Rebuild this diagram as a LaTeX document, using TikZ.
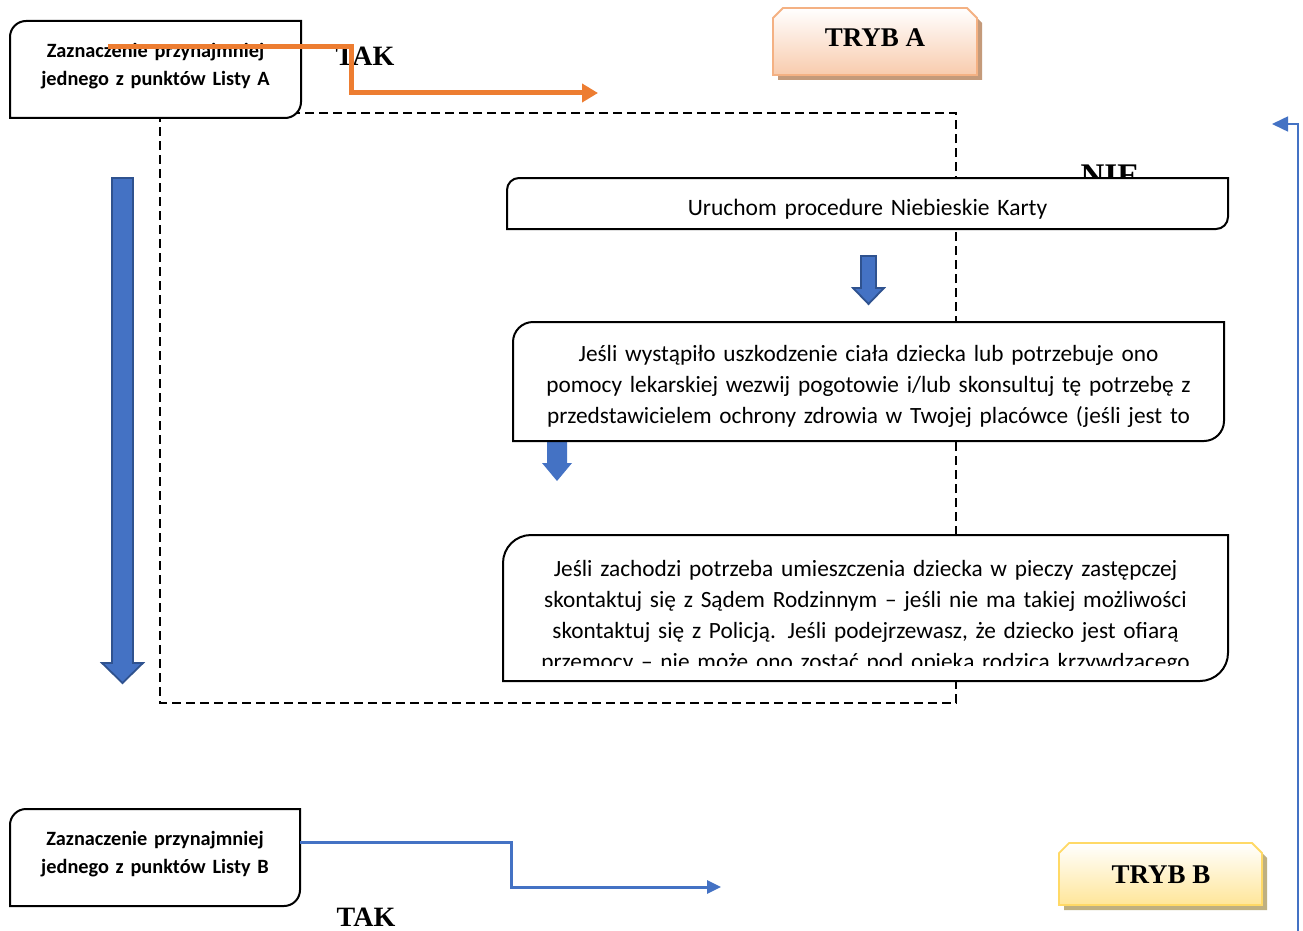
\documentclass[tikz,border=0pt]{standalone}
\usepackage{fontspec}
\setmainfont{Carlito}
\newfontfamily\tnr{Liberation Serif}
\usetikzlibrary{arrows.meta}
\definecolor{blueA}{HTML}{4472C4}
\definecolor{blueD}{HTML}{2F528F}
\definecolor{orangeA}{HTML}{ED7D31}
\definecolor{peachB}{HTML}{F4B183}
\definecolor{peachF}{HTML}{F8CBAD}
\definecolor{peachS}{HTML}{C49A7A}
\definecolor{goldB}{HTML}{FFD966}
\definecolor{goldF}{HTML}{FFE699}
\definecolor{goldS}{HTML}{BFB080}
% rounded (top-left, bottom-right) rectangle: x1 y1 x2 y2 r opts
\newcommand\rrect[6]{\path[#6] (#1,#2+#5) .. controls (#1,#2+0.45*#5) and (#1+0.45*#5,#2) .. (#1+#5,#2) -- (#3,#2) -- (#3,#4-#5) .. controls (#3,#4-0.45*#5) and (#3-0.45*#5,#4) .. (#3-#5,#4) -- (#1,#4) -- cycle;}
% snipped top corners rectangle
\newcommand\sniprect[6]{\path[#6] (#1,#4) -- (#1,#2+#5) -- (#1+#5,#2) -- (#3-#5,#2) -- (#3,#2+#5) -- (#3,#4) -- cycle;}
\begin{document}
\begin{tikzpicture}[x=1pt,y=-1pt,
  boxline/.style={draw=black, line width=2pt, fill=white},
  body/.style={font=\fontsize{23.3}{31}\selectfont, align=center, text width=#1, inner sep=0pt, anchor=base},
  boldtxt/.style={font=\fontsize{20.3}{28}\selectfont\bfseries, align=center, text width=285pt, inner sep=0pt, anchor=base},
  tim/.style={font=\tnr\fontsize{28}{30}\selectfont\bfseries, inner sep=0pt, anchor=base},
  blockarrow/.style={fill=blueA, draw=blueD, line width=1.8pt, line join=miter},
  dashframe/.style={draw=black, line width=1.4pt, dash pattern=on 9pt off 5pt}]
\useasboundingbox (0,0) rectangle (1303,931);
\fill[white] (0,0) rectangle (1303,931);

% dashed frame
\draw[dashframe] (160,113) rectangle (956,703);

% NIE (partly hidden)
\node[tim, font=\tnr\fontsize{33}{36}\selectfont\bfseries] (nie) at (1110,186) {NIE};

% big left block arrow
\draw[blockarrow] (112,178) -- (133,178) -- (133,663) -- (143,663) -- (122.5,683) -- (102,663) -- (112,663) -- cycle;
% small arrow under box 3
\fill[blueA] (547,441) -- (567,441) -- (567,463) -- (572,463) -- (557,481) -- (542,463) -- (547,463) -- cycle;

% boxes
\rrect{10}{21}{301}{118}{16}{boxline}
\rrect{507}{178}{1228}{229}{12}{boxline}
\rrect{513}{322}{1224}{441}{20}{boxline}
\rrect{503}{535}{1228}{681}{28}{boxline}
\rrect{10}{809}{300}{906}{16}{boxline}

% small arrow 1
\draw[blockarrow] (861,256) -- (876,256) -- (876,288) -- (884,288) -- (868.5,304) -- (853,288) -- (861,288) -- cycle;

% texts
\node[boldtxt] (boxA) at (155.5,58) {Zaznaczenie przynajmniej\\jednego z punktów Listy A};
\node[boldtxt] (boxB) at (155,845) {Zaznaczenie przynajmniej\\jednego z punktów Listy B};
\begin{scope}
\clip (509,180) rectangle (1226,227);
\node[body=715pt, font=\fontsize{23.5}{31}\selectfont] (nk) at (867.5,215) {Uruchom procedure Niebieskie Karty};
\end{scope}
\begin{scope}
\clip (515,324) rectangle (1222,427);
\node[body=705pt] (pog) at (868.5,361) {Jeśli wystąpiło uszkodzenie ciała dziecka lub potrzebuje ono\\pomocy lekarskiej wezwij pogotowie i/lub skonsultuj tę potrzebę z\\przedstawicielem ochrony zdrowia w Twojej placówce (jeśli jest to};
\end{scope}
\begin{scope}
\clip (505,537) rectangle (1226,665);
\node[body=715pt] (sad) at (865.5,576) {Jeśli zachodzi potrzeba umieszczenia dziecka w pieczy zastępczej\\skontaktuj się z Sądem Rodzinnym – jeśli nie ma takiej możliwości\\skontaktuj się z Policją. Jeśli podejrzewasz, że dziecko jest ofiarą\\przemocy – nie może ono zostać pod opieką rodzica krzywdzącego};
\end{scope}

% TRYB boxes
\sniprect{778}{13}{982}{80}{10}{fill=peachS}
\sniprect{773}{8}{977}{75}{10}{top color=white, bottom color=peachF, draw=peachB, line width=1.8pt}
\node[tim, font=\tnr\fontsize{27}{30}\selectfont\bfseries] (trybA) at (875,47) {TRYB A};
\sniprect{1064}{848}{1267}{910}{10}{fill=goldS}
\sniprect{1059}{843}{1262}{905}{10}{top color=white, bottom color=goldF, draw=goldB, line width=1.8pt}
\node[tim, font=\tnr\fontsize{27}{30}\selectfont\bfseries] (trybB) at (1161,883) {TRYB B};

% TAK labels
\node[tim] (takA) at (365,66) {TAK};
\node[tim] (takB) at (366,926) {TAK};

% connectors
\coordinate (oa) at (108,47);
\coordinate (oe) at (598,93);
\draw[orangeA, line width=5pt, line join=miter, -{Triangle[length=16pt,width=18pt]}] (oa) -| (351,93) -- (oe);
\coordinate (ba) at (300,842);
\coordinate (be) at (721,887);
\draw[blueA, line width=3pt, line join=miter, -{Triangle[length=14pt,width=13pt]}] (ba) -| (511,887) -- (be);
\coordinate (ra) at (1298,931);
\coordinate (re) at (1272,124);
\draw[blueA, line width=1.6pt, line join=miter, -{Triangle[length=16pt,width=15pt]}] (ra) |- (re);
\end{tikzpicture}
\end{document}
